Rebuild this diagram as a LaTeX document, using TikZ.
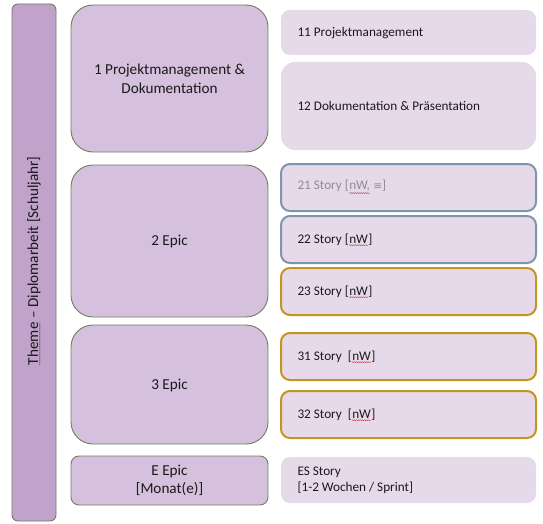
\documentclass[tikz,border=0pt]{standalone}
\usepackage{fontspec}
\setmainfont{Carlito}
\newfontfamily\symfont{DejaVu Sans}
\usetikzlibrary{decorations.pathmorphing}
\definecolor{themefill}{HTML}{C0A2CB}
\definecolor{epicfill}{HTML}{D5C0DD}
\definecolor{storyfill}{HTML}{E6DAEA}
\definecolor{olive}{HTML}{6F7F5E}
\definecolor{bluegray}{HTML}{7F95AF}
\definecolor{gold}{HTML}{C4951C}
\definecolor{txt}{HTML}{1A1A1A}
\definecolor{graytxt}{HTML}{8E8E8E}
\newcommand\squig[1]{\tikz[baseline=(sq.base),sharp corners,line width=0.4pt]{\node[inner sep=0pt,draw=none,fill=none](sq){#1};\draw[red!85,line width=0.4pt,sharp corners,decorate,decoration={snake,amplitude=0.45pt,segment length=2pt}]([yshift=-1.3pt]sq.south west)--([yshift=-1.3pt]sq.south east);}}
\tikzset{
  epicbox/.style={draw=olive,line width=0.9pt,fill=epicfill,rounded corners=22pt},
  epictext/.style={text=txt,font=\fontsize{15.2}{18.5}\selectfont,align=center},
  storybox/.style={fill=storyfill,rounded corners=9pt},
  storytext/.style={text=txt,font=\fontsize{13.2}{16}\selectfont,align=left,anchor=west},
  bluebox/.style={storybox,draw=bluegray,line width=2pt},
  goldbox/.style={storybox,draw=gold,line width=2pt},
}
\begin{document}
\begin{tikzpicture}[x=1pt,y=-1pt]
\useasboundingbox (0,0) rectangle (543,524);
% theme bar
\draw[draw=olive,line width=0.9pt,fill=themefill,rounded corners=6pt] (12,4) rectangle (56,521);
\node[rotate=90,text=txt,font=\fontsize{15.2}{18}\selectfont] (theme) at (34,261) {\squig{Theme} – Diplomarbeit [Schuljahr]};
% epics
\draw[epicbox] (71,5) rectangle (268,152);
\node[epictext] (e1) at (169.5,79) {1 Projektmanagement \&\\Dokumentation};
\draw[epicbox] (71,165) rectangle (268,317);
\node[epictext] (e2) at (169.5,241) {2 Epic};
\draw[epicbox] (71,325) rectangle (268,444);
\node[epictext] (e3) at (169.5,385) {3 Epic};
\draw[epicbox,rounded corners=8pt] (71,456) rectangle (268,505);
\node[epictext] (eE) at (169.5,480.5) {E Epic\\{}[Monat(e)]};
% stories
\path[storybox] (281,10) rectangle (536,55);
\node[storytext] (s11) at (294,33) {11 Projektmanagement};
\path[storybox,rounded corners=14pt] (281,62) rectangle (536,150);
\node[storytext] (s12) at (294,106) {12 Dokumentation \& Präsentation};
\draw[bluebox] (281,164) rectangle (536,211);
\node[storytext,text=graytxt] (s21) at (294,187) {21 Story [\squig{nW,} {\symfont\fontsize{10.5}{12}\selectfont ≡}]};
\draw[bluebox] (281,216) rectangle (536,263);
\node[storytext] (s22) at (294,240) {22 Story [\squig{nW}]};
\draw[goldbox] (281,268) rectangle (536,315);
\node[storytext] (s23) at (294,292) {23 Story [\squig{nW}]};
\draw[goldbox] (281,333) rectangle (536,380);
\node[storytext] (s31) at (294,357) {31 Story~ [\squig{nW}]};
\draw[goldbox] (281,391) rectangle (536,438);
\node[storytext] (s32) at (294,415) {32 Story~ [\squig{nW}]};
\path[storybox] (281,457) rectangle (536,503);
\node[storytext] (sE) at (294,480) {ES Story\\{}[1-2 Wochen / Sprint]};
\end{tikzpicture}
\end{document}
